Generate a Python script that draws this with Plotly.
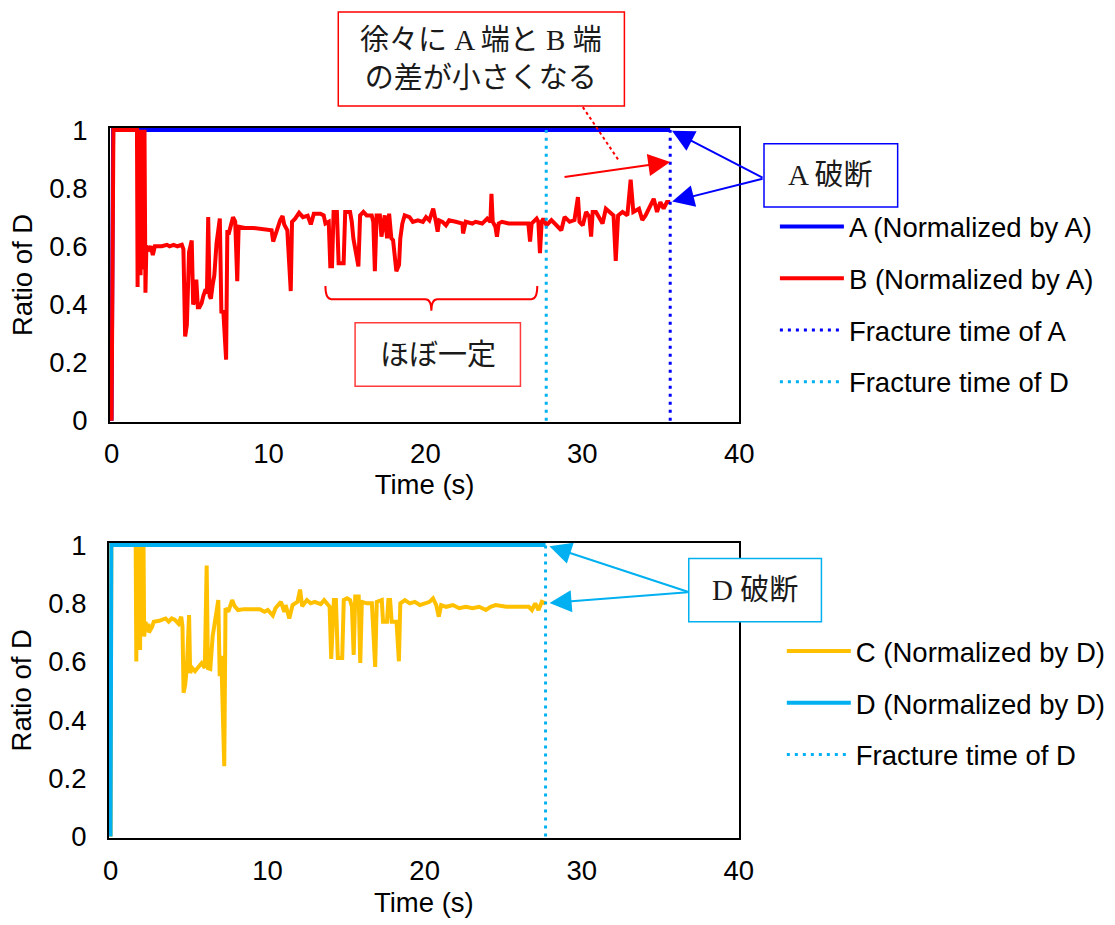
import plotly.graph_objects as go

# ---------------- data ----------------
# Fracture times (s)
fracture_a = 35.6
fracture_d = 27.7

# A and D normalized by themselves: rise to 1 and stay until fracture
a_time = [0.0, 0.1, fracture_a]
a_ratio = [0.0, 1.0, 1.0]
d_time = [0.0, 0.05, fracture_d]
d_ratio = [0.0, 1.0, 1.0]

# B normalized by A
b_time = [
    0.0, 0.12, 1.62, 1.66, 1.70, 1.75, 1.80, 1.85, 1.90, 1.95, 2.00, 2.05, 2.10, 2.16,
    2.22, 2.38, 2.50, 2.63, 2.76, 3.20, 3.53, 3.70, 3.95, 4.20, 4.48, 4.58, 4.69, 4.80,
    4.94, 5.11, 5.20, 5.28, 5.40, 5.50, 5.60, 5.74, 5.85, 5.95, 6.08, 6.16, 6.25, 6.33,
    6.45, 6.55, 6.69, 6.80, 6.90, 7.00, 7.12, 7.30, 7.38, 7.50, 7.74, 7.88, 8.01, 8.10,
    8.50, 9.00, 9.50, 9.80, 10.0, 10.2, 10.3, 10.45, 10.6, 10.75, 10.9, 11.0, 11.2, 11.42,
    11.5, 11.7, 11.95, 12.2, 12.5, 12.7, 12.89, 13.31, 13.52, 13.63, 13.84, 13.94, 14.05,
    14.15, 14.36, 14.47, 14.79, 14.89, 15.20, 15.31, 15.41, 15.73, 15.84, 16.05, 16.26,
    16.58, 16.68, 16.78, 16.89, 17.10, 17.20, 17.41, 17.56, 17.69, 17.83, 17.94, 18.15,
    18.32, 18.40, 18.53, 18.68, 18.99, 19.20, 19.52, 19.84, 20.04, 20.25, 20.50, 20.67,
    20.78, 20.88, 21.09, 21.31, 21.51, 21.93, 22.36, 22.40, 22.57, 22.99, 23.20, 23.62,
    23.94, 24.14, 24.21, 24.29, 24.46, 24.56, 24.67, 24.88, 25.30, 25.90, 26.56, 26.67,
    26.77, 27.09, 27.20, 27.30, 27.41, 27.51, 27.72, 28.03, 28.45, 28.66, 28.87, 29.19,
    29.50, 29.72, 29.82, 30.03, 30.24, 30.45, 30.56, 30.66, 30.87, 31.08, 31.29, 31.50,
    31.71, 31.99, 32.13, 32.28, 32.56, 32.87, 33.08, 33.25, 33.61, 33.82, 34.03, 34.24,
    34.55, 34.76, 34.97, 35.18, 35.39, 35.60,
]
b_ratio = [
    0.0, 1.0, 1.0, 0.46, 1.0, 0.55, 1.0, 0.50, 1.0, 0.58, 1.0, 0.52, 1.0, 0.44,
    0.60, 0.59, 0.60, 0.57, 0.60, 0.60, 0.605, 0.60, 0.605, 0.60, 0.605, 0.59, 0.29, 0.33,
    0.58, 0.62, 0.40, 0.41, 0.485, 0.39, 0.39, 0.405, 0.43, 0.445, 0.44, 0.70, 0.43, 0.42,
    0.47, 0.50, 0.61, 0.65, 0.695, 0.37, 0.38, 0.21, 0.655, 0.65, 0.70, 0.685, 0.48, 0.667,
    0.663, 0.663, 0.66, 0.655, 0.655, 0.655, 0.616, 0.64, 0.667, 0.69, 0.704, 0.675, 0.655, 0.446,
    0.684, 0.695, 0.715, 0.70, 0.705, 0.675, 0.712, 0.712, 0.706, 0.678, 0.684, 0.531, 0.531,
    0.718, 0.718, 0.542, 0.542, 0.718, 0.718, 0.684, 0.627, 0.531, 0.706, 0.718, 0.706,
    0.706, 0.684, 0.514, 0.706, 0.706, 0.633, 0.706, 0.627, 0.712, 0.627, 0.621, 0.514,
    0.536, 0.627, 0.678, 0.706, 0.70, 0.684, 0.689, 0.684, 0.70, 0.689, 0.729, 0.684,
    0.65, 0.689, 0.684, 0.672, 0.689, 0.684, 0.678, 0.644, 0.684, 0.678, 0.684, 0.678,
    0.695, 0.684, 0.78, 0.684, 0.667, 0.633, 0.678, 0.684, 0.678, 0.678, 0.678, 0.616,
    0.678, 0.695, 0.684, 0.576, 0.684, 0.695, 0.672, 0.69, 0.667, 0.655, 0.701, 0.684,
    0.69, 0.769, 0.684, 0.672, 0.718, 0.701, 0.633, 0.718, 0.718, 0.701, 0.678, 0.729,
    0.718, 0.706, 0.55, 0.706, 0.718, 0.706, 0.829, 0.718, 0.729, 0.69, 0.706, 0.729,
    0.763, 0.718, 0.752, 0.729, 0.752, 0.752,
]

# C normalized by D
c_time = [
    0.0, 0.05, 1.60, 1.64, 1.68, 1.72, 1.76, 1.80, 1.84, 1.88, 1.92, 1.96, 2.00, 2.04,
    2.10, 2.14, 2.23, 2.30, 2.40, 2.44, 2.65, 2.75, 3.10, 3.30, 3.50, 3.70, 3.90, 4.10,
    4.33, 4.50, 4.58, 4.65, 4.75, 4.86, 5.00, 5.07, 5.20, 5.38, 5.60, 5.80, 6.00, 6.12,
    6.20, 6.35, 6.50, 6.65, 6.75, 6.86, 6.95, 7.05, 7.24, 7.32, 7.50, 7.74, 7.90, 8.12,
    8.50, 9.00, 9.30, 9.50, 9.80, 10.01, 10.33, 10.5, 10.85, 11.06, 11.15, 11.38, 11.59,
    11.9, 12.07, 12.2, 12.5, 12.74, 13.0, 13.38, 13.6, 13.80, 13.95, 14.05, 14.22, 14.35,
    14.47, 14.75, 14.85, 15.06, 15.25, 15.37, 15.48, 15.58, 15.80, 15.90, 16.0, 16.32,
    16.64, 16.85, 16.95, 17.27, 17.35, 17.60, 17.69, 17.80, 17.90, 18.21, 18.36, 18.45,
    18.74, 19.05, 19.37, 19.7, 20.0, 20.31, 20.53, 20.74, 20.90, 21.05, 21.37, 21.8,
    22.2, 22.63, 23.05, 23.47, 23.9, 24.2, 24.52, 25.2, 26.0, 26.63, 26.83, 27.04, 27.25,
    27.46, 27.70,
]
c_ratio = [
    0.0, 1.0, 1.0, 0.60, 1.0, 0.66, 1.0, 0.70, 1.0, 0.64, 1.0, 0.71, 1.0, 0.69,
    1.0, 0.686, 0.737, 0.709, 0.73, 0.70, 0.72, 0.737, 0.74, 0.743, 0.748, 0.737, 0.748, 0.743,
    0.73, 0.754, 0.72, 0.493, 0.52, 0.58, 0.76, 0.561, 0.578, 0.567, 0.58, 0.595, 0.578, 0.93,
    0.578, 0.575, 0.686, 0.748, 0.78, 0.811, 0.55, 0.62, 0.241, 0.783, 0.771, 0.811, 0.79, 0.777,
    0.78, 0.78, 0.777, 0.78, 0.771, 0.777, 0.758, 0.783, 0.805, 0.771, 0.794, 0.748, 0.794,
    0.805, 0.847, 0.79, 0.811, 0.80, 0.805, 0.797, 0.811, 0.80, 0.788, 0.609, 0.811, 0.811,
    0.612, 0.612, 0.811, 0.817, 0.811, 0.788, 0.623, 0.823, 0.823, 0.595, 0.805, 0.80,
    0.80, 0.582, 0.805, 0.811, 0.737, 0.737, 0.811, 0.811, 0.737, 0.737, 0.601, 0.80,
    0.811, 0.80, 0.805, 0.794, 0.80, 0.805, 0.817, 0.794, 0.754, 0.794, 0.788, 0.794,
    0.783, 0.788, 0.783, 0.788, 0.777, 0.788, 0.794, 0.788, 0.788, 0.788, 0.777, 0.80, 0.777,
    0.805, 0.80,
]

x_ticks = [0, 10, 20, 30, 40]
y_ticks = [0, 0.2, 0.4, 0.6, 0.8, 1]
y_tick_text = ["0", "0.2", "0.4", "0.6", "0.8", "1"]

# ---------------- styling ----------------
BLUE = "#0000FF"
RED = "#FF0000"
YELLOW = "#FFC000"
SKY = "#00B0F0"
FONT = "Liberation Sans, Arial, sans-serif"
JP_FONT = "Liberation Serif, Noto Sans CJK JP, serif"
FS = 27.5
W, H = 1115, 925
DOT = "3px,5px"
X_RANGE = [-0.1, 40]
Y_RANGE = [-0.005, 1.008]


# layout positions are given on the displayed pixel grid and mapped to figure pixels
def fig_px_x(p):
    return (p - 2.4) / 0.991


def fig_px_y(p):
    return (p - 8.9) / 0.981


def paper_x(p):
    return fig_px_x(p) / W


def paper_y(p):
    return 1 - fig_px_y(p) / H


def x_domain(px0, px40):
    """Domain for an x axis whose 0 s and 40 s sit at the given pixels."""
    f0, f40 = fig_px_x(px0), fig_px_x(px40)
    per = (f40 - f0) / 40
    return [(f0 + X_RANGE[0] * per) / W, (f0 + X_RANGE[1] * per) / W]


def y_domain(py0, py1):
    """Domain for a y axis whose 0 and 1 sit at the given pixels."""
    f0, f1 = fig_px_y(py0), fig_px_y(py1)
    per = f0 - f1
    return [1 - (f0 - Y_RANGE[0] * per) / H, 1 - (f0 - Y_RANGE[1] * per) / H]


fig = go.Figure()

# top panel traces
fig.add_trace(go.Scatter(x=a_time, y=a_ratio, mode="lines", name="A (Normalized by A)",
                         line=dict(color=BLUE, width=4), legend="legend", legendgroup="a",
                         xaxis="x", yaxis="y"))
fig.add_trace(go.Scatter(x=b_time, y=b_ratio, mode="lines", name="B (Normalized by A)",
                         line=dict(color=RED, width=4), legend="legend", legendgroup="b",
                         xaxis="x", yaxis="y"))
fig.add_trace(go.Scatter(x=[fracture_a, fracture_a], y=[0, 1], mode="lines",
                         name="Fracture time of A", line=dict(color=BLUE, width=3, dash=DOT),
                         legend="legend", legendgroup="fa", xaxis="x", yaxis="y"))
fig.add_trace(go.Scatter(x=[fracture_d, fracture_d], y=[0, 1], mode="lines",
                         name="Fracture time of D", line=dict(color=SKY, width=3, dash=DOT),
                         legend="legend", legendgroup="fd", xaxis="x", yaxis="y"))

# bottom panel traces
fig.add_trace(go.Scatter(x=c_time, y=c_ratio, mode="lines", name="C (Normalized by D)",
                         line=dict(color=YELLOW, width=4), legend="legend2", legendgroup="c",
                         xaxis="x2", yaxis="y2"))
fig.add_trace(go.Scatter(x=d_time, y=d_ratio, mode="lines", name="D (Normalized by D)",
                         line=dict(color=SKY, width=4), legend="legend2", legendgroup="d",
                         xaxis="x2", yaxis="y2"))
fig.add_trace(go.Scatter(x=[fracture_d, fracture_d], y=[0, 1], mode="lines",
                         name="Fracture time of D", line=dict(color=SKY, width=3, dash=DOT),
                         legend="legend2", legendgroup="fd2", xaxis="x2", yaxis="y2"))

axis_common = dict(
    showgrid=False, zeroline=False, showline=True, linecolor="black", linewidth=2,
    mirror=True, ticks="", layer="below traces",
    tickfont=dict(family=FONT, size=FS, color="black"),
)


def x_axis(title_standoff, label_standoff):
    return dict(axis_common, range=X_RANGE, tickvals=x_ticks, ticklabelstandoff=label_standoff,
                title=dict(text="Time (s)", font=dict(family=FONT, size=FS, color="black"),
                           standoff=title_standoff))


y_common = dict(axis_common, range=Y_RANGE, tickvals=y_ticks, ticktext=y_tick_text,
                ticklabelstandoff=15,
                title=dict(text="Ratio of D", font=dict(family=FONT, size=FS, color="black"),
                           standoff=9))

legend_common = dict(
    font=dict(family=FONT, size=FS, color="black"), bgcolor="rgba(0,0,0,0)",
    borderwidth=0, traceorder="grouped", tracegroupgap=13, itemwidth=64,
    xanchor="left", yanchor="top",
)

fig.update_layout(
    width=W, height=H, margin=dict(l=0, r=0, t=0, b=0),
    paper_bgcolor="white", plot_bgcolor="white", showlegend=True,
    xaxis=dict(x_axis(4, 6), domain=x_domain(109, 743), anchor="y"),
    yaxis=dict(y_common, domain=y_domain(421, 127), anchor="x"),
    xaxis2=dict(x_axis(8, 7), domain=x_domain(108, 742.5), anchor="y2"),
    yaxis2=dict(y_common, domain=y_domain(841, 546.5), anchor="x2"),
    legend=dict(legend_common, x=paper_x(779), y=paper_y(200)),
    legend2=dict(legend_common, x=paper_x(786), y=paper_y(629)),
)

# ---------------- callouts ----------------
shapes = []
annotations = []


def box(x0, y0, x1, y1, color):
    shapes.append(dict(type="rect", xref="paper", yref="paper",
                       x0=paper_x(x0), x1=paper_x(x1), y0=paper_y(y1), y1=paper_y(y0),
                       line=dict(color=color, width=1.5), fillcolor="white", layer="above"))


def label(text, cx, cy):
    annotations.append(dict(text=text, xref="paper", yref="paper", x=paper_x(cx), y=paper_y(cy),
                            xanchor="center", yanchor="middle", showarrow=False,
                            font=dict(family=JP_FONT, size=29, color="#1a1a1a")))


def arrow(x, y, ax, ay, xr, yr, color, standoff=2):
    annotations.append(dict(text="", x=x, y=y, ax=ax, ay=ay, xref=xr, yref=yr,
                            axref=xr, ayref=yr, showarrow=True, arrowhead=2, arrowsize=2.2,
                            arrowwidth=2, arrowcolor=color, standoff=standoff))


# top note about the shrinking A/B difference
box(338, 8, 627, 103, RED)
label("徐々に A 端と B 端<br>の差が小さくなる", 482.5, 55)
shapes.append(dict(type="line", xref="paper", yref="paper",
                   x0=paper_x(585), y0=paper_y(104), x1=paper_x(622), y1=paper_y(159),
                   line=dict(color=RED, width=2, dash="dot")))
arrow(fracture_a, 0.89, 28.77, 0.837, "x", "y", RED, standoff=0)

# A fracture callout
box(768, 141, 903, 205, BLUE)
label("A 破断", 835.5, 173)
arrow(fracture_a, 1.0, 41.58, 0.833, "x", "y", BLUE)
arrow(fracture_a, 0.752, 41.58, 0.833, "x", "y", BLUE)

# brace over the steady interval
shapes.append(dict(type="path", xref="x", yref="y", layer="above",
                   path="M 13.63,0.463 Q 13.63,0.418 14.0,0.418 L 20.0,0.418 "
                        "Q 20.38,0.418 20.38,0.378 Q 20.38,0.418 20.76,0.418 "
                        "L 26.76,0.418 Q 27.13,0.418 27.13,0.463",
                   line=dict(color=RED, width=2)))
box(355, 322, 522, 386, "#FF3B3B")
label("ほぼ一定", 438.5, 354)

# D fracture callout
box(692, 560, 826, 624, SKY)
label("D 破断", 759, 592)
arrow(fracture_d, 1.0, 36.85, 0.838, "x2", "y2", SKY, standoff=4)
arrow(fracture_d, 0.80, 36.85, 0.838, "x2", "y2", SKY, standoff=4)

fig.update_layout(shapes=shapes, annotations=annotations)

fig.write_html("out.html")
